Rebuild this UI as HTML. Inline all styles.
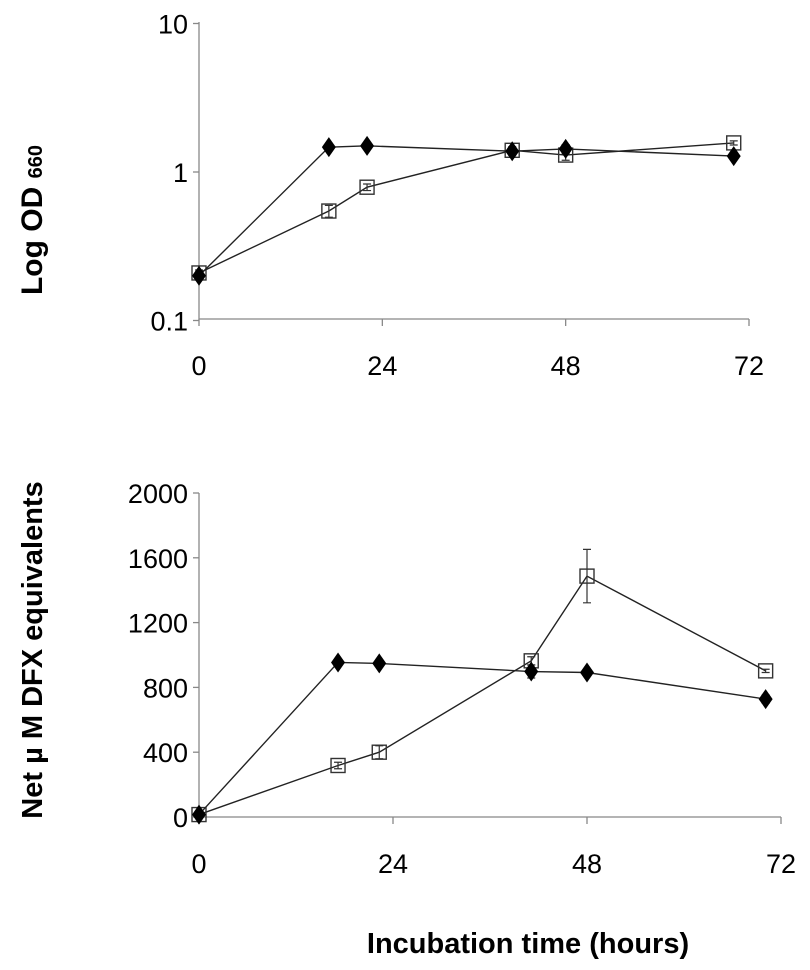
<!DOCTYPE html>
<html><head><meta charset="utf-8"><style>
html,body{margin:0;padding:0;background:#fff;}
svg{display:block;font-family:"Liberation Sans",Arial,sans-serif;}
</style></head><body>
<svg id="c" width="810" height="970" viewBox="0 0 810 970">
<text x="42" y="220" transform="rotate(-90 42 220)" text-anchor="middle" font-weight="bold" font-size="30">Log OD <tspan font-size="20">660</tspan></text>
<text x="42" y="650" transform="rotate(-90 42 650)" text-anchor="middle" font-weight="bold" font-size="29">Net µ M DFX equivalents</text>
<text x="528" y="953" text-anchor="middle" font-weight="bold" font-size="29">Incubation time (hours)</text>
</svg>
<script>
const hours = [0, 17, 22, 41, 48, 70];
const odDiamond = [0.2, 1.47, 1.5, 1.38, 1.43, 1.28];
const odSquare = [0.209, 0.546, 0.79, 1.4, 1.3, 1.57];
const odSquareErr = [0.01, 0.05, 0.04, 0.08, 0.1, 0.05];
const odDiamondErr = [0.01, 0.03, 0.03, 0.08, 0.1, 0.05];
const dfxHoursD = [0, 17.2, 22.3, 41.1, 48, 70.1];
const dfxHoursS = [0, 17.2, 22.3, 41.1, 48, 70.1];
const dfxDiamond = [15, 954, 948, 898, 892, 728];
const dfxSquare = [15, 318, 400, 964, 1487, 902];
const dfxSquareErr = [5, 20, 40, 25, 165, 10];
const dfxDiamondErr = [5, 10, 10, 40, 15, 25];
const xTicks = [0, 24, 48, 72];
const odTicks = [0.1, 1, 10];
const odTickLabels = ["0.1", "1", "10"];
const dfxTicks = [0, 400, 800, 1200, 1600, 2000];

const NS = "http://www.w3.org/2000/svg";
const svg = document.getElementById("c");
function mk(tag, attrs, parent) {
  const e = document.createElementNS(NS, tag);
  for (const k in attrs) e.setAttribute(k, attrs[k]);
  (parent || svg).appendChild(e);
  return e;
}
function drawPanel(o) {
  const g = mk("g", {});
  
  
  const ax = mk("path", {d: `M${o.x0} ${o.yTop}V${o.yBot}H${o.xEnd}`, stroke: "#888", "stroke-width": 1.3, fill: "none"}, g);
  
  
  xTicks.forEach(t => {
    const x = o.sx(t);
    const tk = mk("line", {x1: x, x2: x, y1: o.yBot, y2: o.yBot + 7, stroke: "#888", "stroke-width": 1.3}, g);
    
    
    const tl = mk("text", {x: x, y: o.yBot + 56, "text-anchor": "middle", "font-size": 27}, g);
    tl.textContent = t;
    
    
  });
  o.yTicks.forEach((t, i) => {
    const y = o.sy(t);
    const tk = mk("line", {x1: o.x0 - 6, x2: o.x0, y1: y, y2: y, stroke: "#888", "stroke-width": 1.3}, g);
    
    
    const tl = mk("text", {x: o.x0 - 11, y: y + 10, "text-anchor": "end", "font-size": 27}, g);
    tl.textContent = o.yLabels[i];
    
    
  });
  o.series.forEach(s => {
    const pts = s.xs.map((h, i) => [o.sx(h), o.sy(s.ys[i])]);
    const ln = mk("polyline", {points: pts.map(p => p.join(",")).join(" "), fill: "none", stroke: "#222", "stroke-width": 1.4}, g);
    
    
    s.ys.forEach((v, i) => {
      const x = pts[i][0], y1 = o.sy(v + s.err[i]), y2 = o.sy(Math.max(v - s.err[i], o.minV));
      const eb = mk("path", {d: `M${x} ${y1}V${y2}M${x-4} ${y1}H${x+4}M${x-4} ${y2}H${x+4}`, stroke: "#333", "stroke-width": 1.2, fill: "none"}, g);
      
      
    });
    pts.forEach(([x, y]) => {
      let m;
      if (s.shape === "diamond") {
        m = mk("polygon", {points: `${x},${y-10} ${x+7},${y} ${x},${y+10} ${x-7},${y}`, fill: "#000"}, g);
      } else {
        m = mk("rect", {x: x - 7, y: y - 7, width: 14, height: 14, fill: "none", stroke: "#333", "stroke-width": 1.4}, g);
      }
      
      
    });
  });
}
drawPanel({
  name: "od-chart", x0: 199, xEnd: 749, yTop: 22, yBot: 319, minV: 0.1,
  sx: h => 199 + h * (749 - 199) / 72,
  sy: v => 172 - Math.log10(v) * 148.5,
  yTicks: odTicks, yLabels: odTickLabels,
  series: [
    {name: "od-square", xs: hours, ys: odSquare, err: odSquareErr, shape: "square"},
    {name: "od-diamond", xs: hours, ys: odDiamond, err: odDiamondErr, shape: "diamond"}
  ]
});
drawPanel({
  name: "dfx-chart", x0: 199, xEnd: 781, yTop: 493, yBot: 817, minV: 0,
  sx: h => 199 + h * (781 - 199) / 72,
  sy: v => 817 - v * (817 - 493) / 2000,
  yTicks: dfxTicks, yLabels: dfxTicks.map(String),
  series: [
    {name: "dfx-square", xs: dfxHoursS, ys: dfxSquare, err: dfxSquareErr, shape: "square"},
    {name: "dfx-diamond", xs: dfxHoursD, ys: dfxDiamond, err: dfxDiamondErr, shape: "diamond"}
  ]
});
</script>
</body></html>
